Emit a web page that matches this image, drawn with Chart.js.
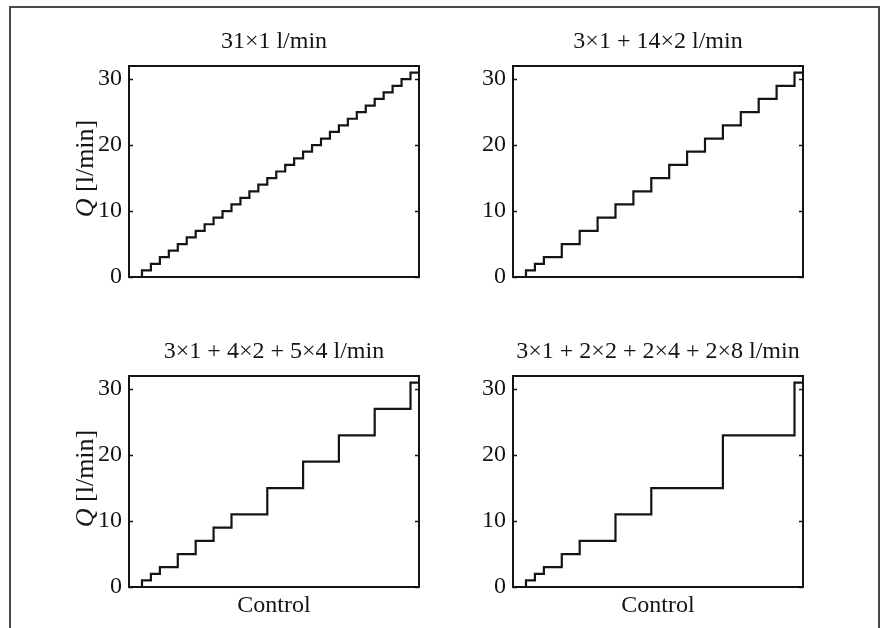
<!DOCTYPE html>
<html>
<head>
<meta charset="utf-8">
<script src="https://cdn.jsdelivr.net/npm/chart.js@4.4.1/dist/chart.umd.min.js"></script>
<style>
  html, body { margin: 0; padding: 0; background: #fff; }
  body { width: 882px; height: 628px; position: relative; overflow: hidden; }
  .frame { position: absolute; left: 9px; top: 6px; width: 867px; height: 640px;
           border: 2px solid #4a4a4a; border-bottom: none; }
  .cell { position: absolute; width: 370px; height: 295px; }
</style>
</head>
<body>
<div class="frame"></div>
<div class="cell" style="left:59px;top:20px"><canvas id="c1"></canvas></div>
<div class="cell" style="left:443px;top:20px"><canvas id="c2"></canvas></div>
<div class="cell" style="left:59px;top:330px"><canvas id="c3"></canvas></div>
<div class="cell" style="left:443px;top:330px"><canvas id="c4"></canvas></div>
<script>
// Flow levels reached at each control step (l/min)
const levels31x1 = [0, 1, 2, 3, 4, 5, 6, 7, 8, 9, 10, 11, 12, 13, 14, 15, 16,
                    17, 18, 19, 20, 21, 22, 23, 24, 25, 26, 27, 28, 29, 30, 31];
const levels3x1_14x2 = [0, 1, 2, 3, 5, 7, 9, 11, 13, 15, 17, 19, 21, 23, 25, 27, 29, 31];
const levels3x1_4x2_5x4 = [0, 1, 2, 3, 5, 7, 9, 11, 15, 19, 23, 27, 31];
const levels3x1_2x2_2x4_2x8 = [0, 1, 2, 3, 5, 7, 11, 15, 23, 31];

const titles = [
  "31×1 l/min",
  "3×1 + 14×2 l/min",
  "3×1 + 4×2 + 5×4 l/min",
  "3×1 + 2×2 + 2×4 + 2×8 l/min",
];
const yTicks = [0, 10, 20, 30];

const X_MIN = -0.45, X_MAX = 31.95;
const SERIF = "'Liberation Serif', 'Times New Roman', serif";
const INK = "#141414";

// box around the plot area + small inward ticks on both sides
const boxPlugin = {
  id: "box",
  afterDatasetsDraw(chart) {
    const { ctx, chartArea: a } = chart;
    const y = chart.scales.y;
    ctx.save();
    ctx.strokeStyle = INK;
    ctx.lineWidth = 2;
    ctx.strokeRect(a.left, a.top, a.right - a.left, a.bottom - a.top);
    ctx.lineWidth = 1.5;
    yTicks.forEach((v) => {
      const py = Math.round(y.getPixelForValue(v)) + 0.5;
      ctx.beginPath();
      ctx.moveTo(a.left, py); ctx.lineTo(a.left + 4, py);
      ctx.moveTo(a.right, py); ctx.lineTo(a.right - 4, py);
      ctx.stroke();
    });
    ctx.restore();
  },
};

// "Q [l/min]" with italic Q, rotated
const yLabelPlugin = {
  id: "yLabel",
  afterDraw(chart, args, opts) {
    if (!opts.show) return;
    const { ctx, chartArea: a } = chart;
    const q = "Q", rest = " [l/min]";
    ctx.save();
    ctx.translate(a.left - 43, (a.top + a.bottom) / 2 - 3);
    ctx.rotate(-Math.PI / 2);
    ctx.fillStyle = INK;
    ctx.textBaseline = "middle";
    ctx.font = `italic 26px ${SERIF}`;
    const wq = ctx.measureText(q).width;
    ctx.font = `26px ${SERIF}`;
    const wr = ctx.measureText(rest).width;
    const x0 = -(wq + wr) / 2;
    ctx.font = `italic 26px ${SERIF}`;
    ctx.fillText(q, x0, 0);
    ctx.font = `26px ${SERIF}`;
    ctx.fillText(rest, x0 + wq, 0);
    ctx.restore();
  },
};

function renderStairs(canvasId, levels, title, showYLabel, showXLabel) {
  const ctx = document.getElementById(canvasId).getContext("2d");
  const points = levels.map((q) => ({ x: q, y: q }));
  points.push({ x: X_MAX, y: levels[levels.length - 1] });

  return new Chart(ctx, {
    type: "line",
    data: {
      datasets: [
        {
          data: points,
          borderColor: INK,
          borderWidth: 2.2,
          pointRadius: 0,
          stepped: "before",
          fill: false,
        },
      ],
    },
    plugins: [boxPlugin, yLabelPlugin],
    options: {
      responsive: true,
      maintainAspectRatio: false,
      animation: false,
      layout: { padding: { right: 10 } },
      plugins: {
        legend: { display: false },
        tooltip: { enabled: false },
        yLabel: { show: showYLabel },
        title: {
          display: true,
          text: title,
          fullSize: false,
          color: INK,
          font: { family: SERIF, size: 24, weight: "normal", lineHeight: "24px" },
          padding: { top: 10, bottom: 12 },
        },
      },
      scales: {
        x: {
          type: "linear",
          min: X_MIN,
          max: X_MAX,
          grid: { display: false, drawTicks: false },
          border: { display: false },
          ticks: { display: false },
          title: {
            display: showXLabel,
            text: "Control",
            color: INK,
            font: { family: SERIF, size: 24, lineHeight: 1.2 },
            padding: { top: 0, bottom: 5 },
          },
          afterFit: (s) => { s.height = 38; },
        },
        y: {
          min: 0,
          max: 32,
          grid: { display: false, drawTicks: false },
          border: { display: false },
          afterBuildTicks: (s) => { s.ticks = yTicks.map((v) => ({ value: v })); },
          ticks: {
            color: INK,
            padding: 7,
            font: { family: SERIF, size: 24 },
          },
          afterFit: (s) => { s.width = 70; },
        },
      },
    },
  });
}

renderStairs("c1", levels31x1, titles[0], true, false);
renderStairs("c2", levels3x1_14x2, titles[1], false, false);
renderStairs("c3", levels3x1_4x2_5x4, titles[2], true, true);
renderStairs("c4", levels3x1_2x2_2x4_2x8, titles[3], false, true);
</script>
</body>
</html>
